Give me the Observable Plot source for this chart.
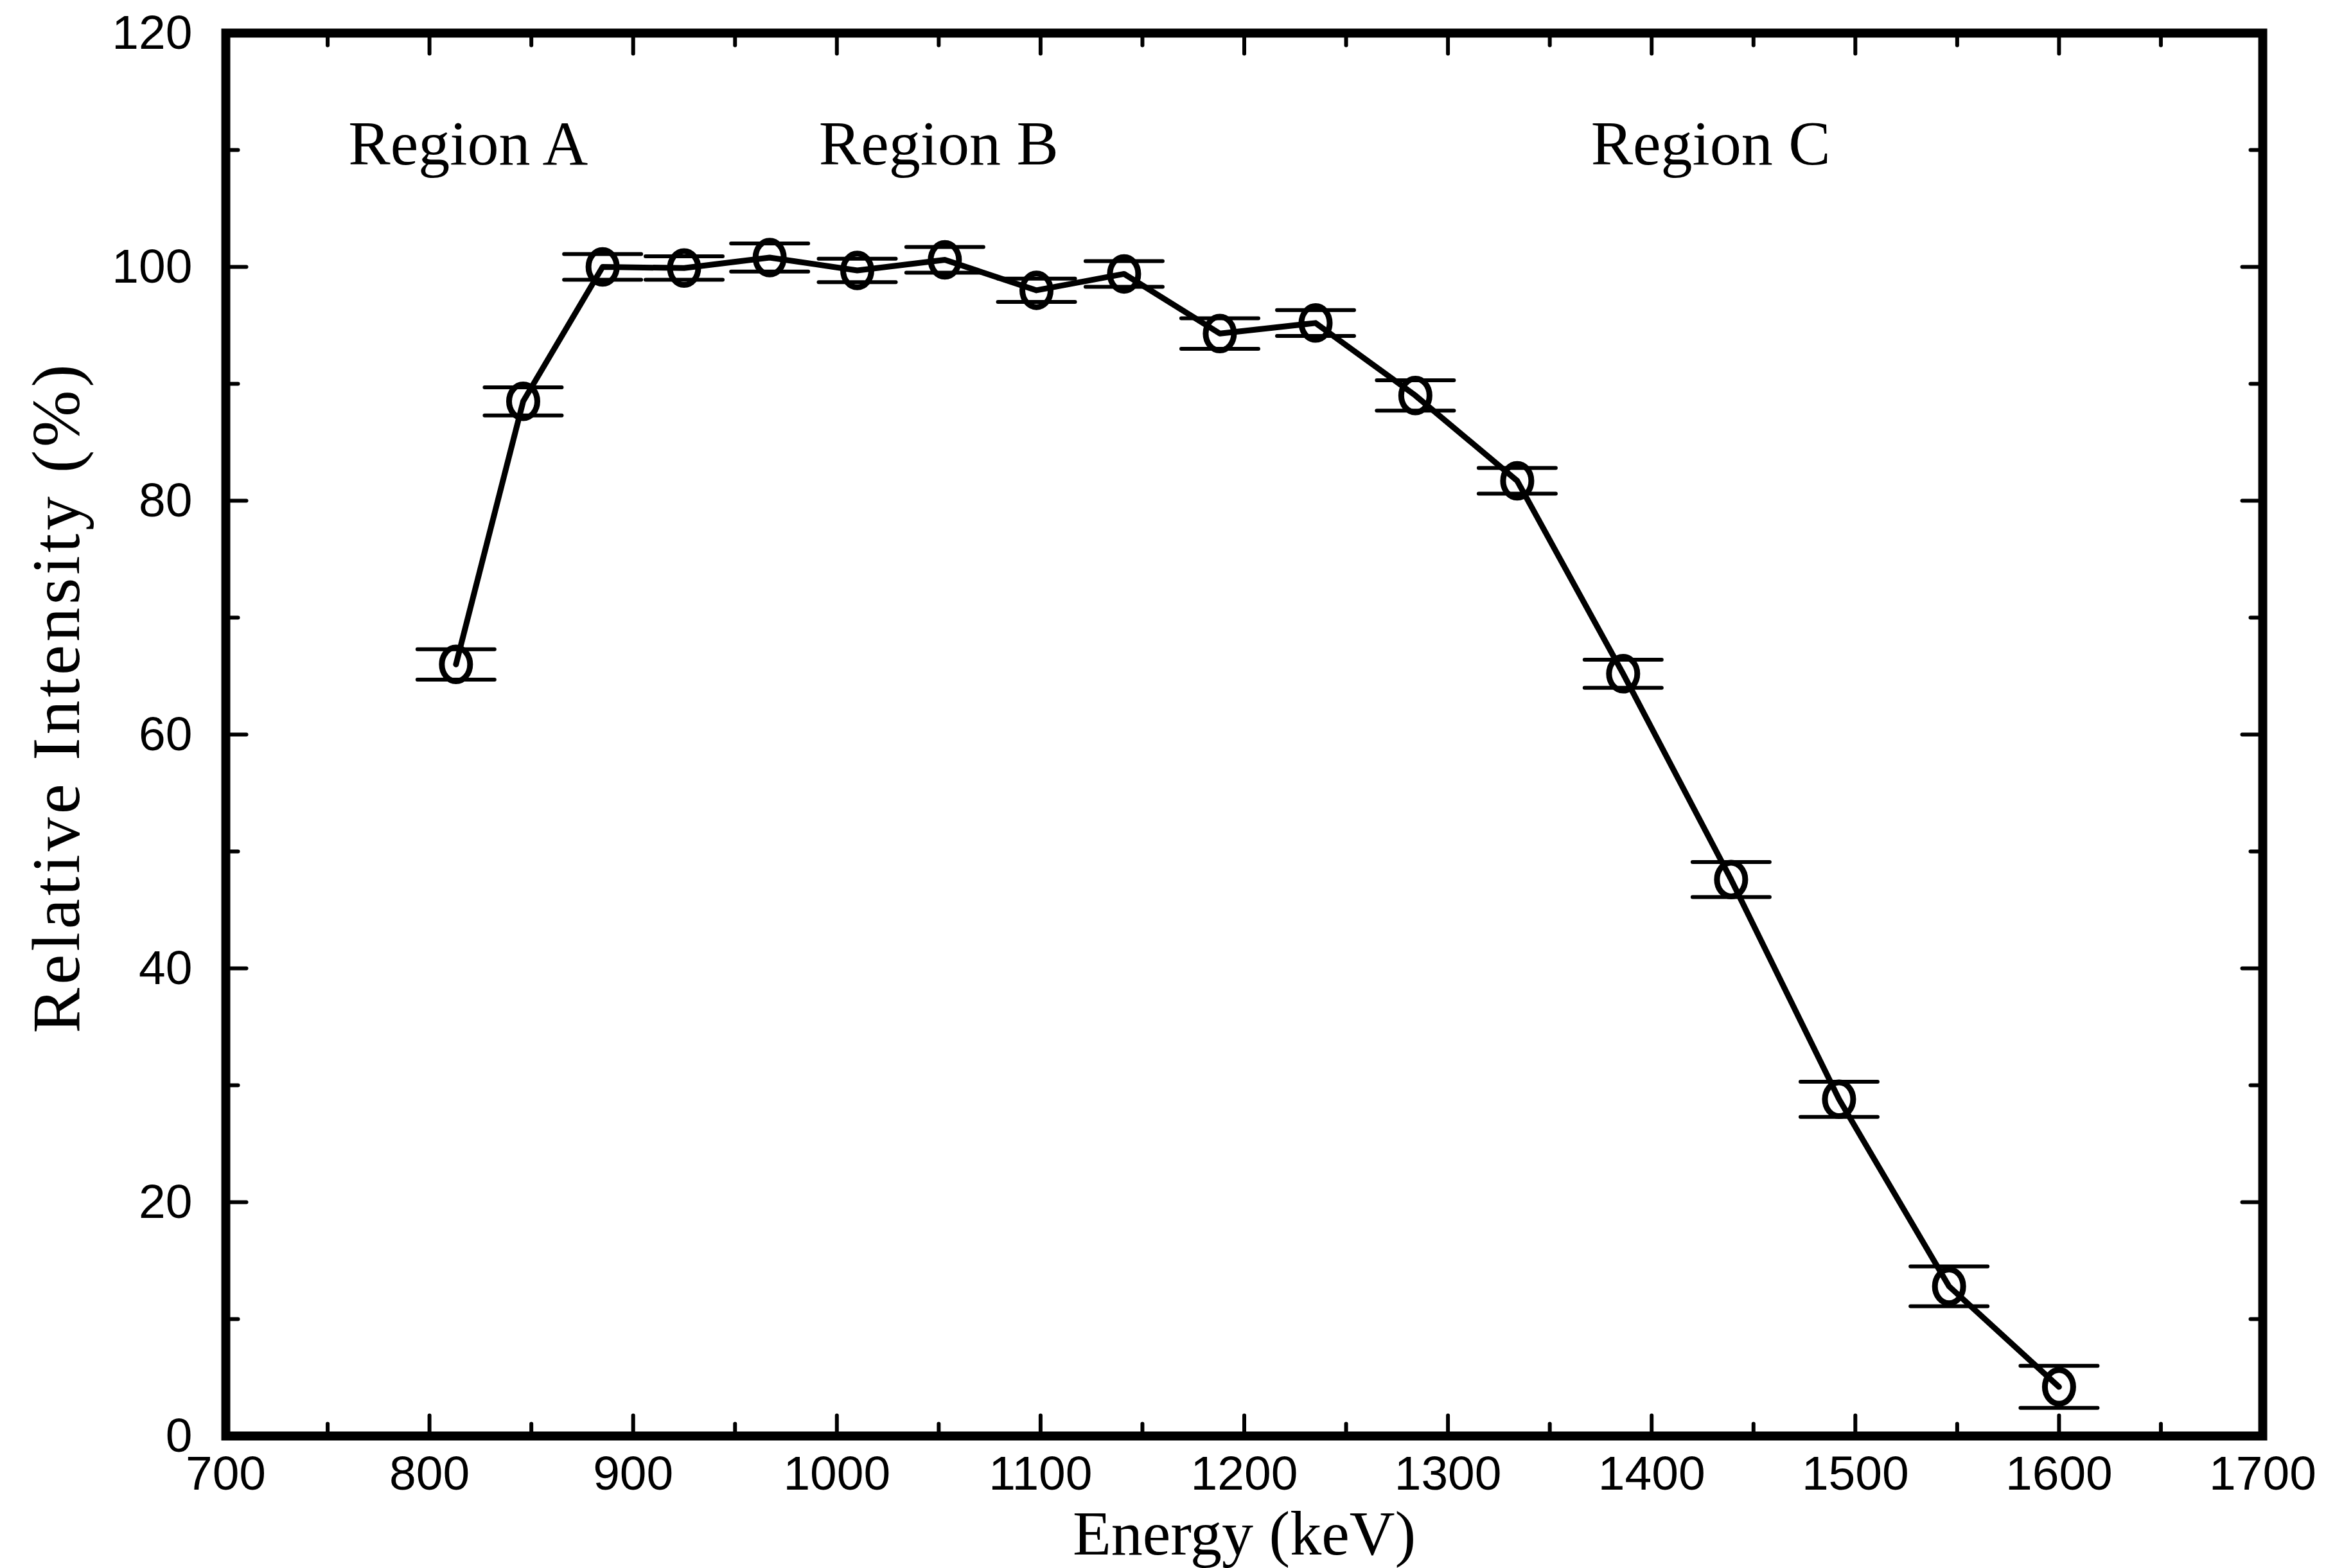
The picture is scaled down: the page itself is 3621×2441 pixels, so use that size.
<!DOCTYPE html>
<html>
<head>
<meta charset="utf-8">
<script src="https://cdn.jsdelivr.net/npm/d3@7"></script>
<script src="https://cdn.jsdelivr.net/npm/@observablehq/plot@0.6"></script>
<style>
  html, body { margin: 0; padding: 0; background: white; }
  .ytitle text { letter-spacing: 5px; }
</style>
</head>
<body>
<div id="chart"></div>
<script>
// Data
const energy    = [813, 846, 885, 925, 967, 1010, 1053, 1098, 1141, 1188, 1235, 1284, 1334, 1386, 1439, 1492, 1546, 1600];
const intensity = [66.0, 88.5, 100.0, 99.9, 100.8, 99.7, 100.6, 98.0, 99.4, 94.3, 95.2, 89.0, 81.7, 65.2, 47.6, 28.8, 12.8, 4.2];
const errorBar  = [1.3, 1.2, 1.1, 1.0, 1.2, 1.0, 1.1, 1.0, 1.1, 1.3, 1.1, 1.3, 1.1, 1.2, 1.5, 1.5, 1.7, 1.8];

const xDomain = [700, 1700];
const yDomain = [0, 120];
const xMajorTicks = [700, 800, 900, 1000, 1100, 1200, 1300, 1400, 1500, 1600, 1700];
const xMinorTicks = [750, 850, 950, 1050, 1150, 1250, 1350, 1450, 1550, 1650];
const yMajorTicks = [0, 20, 40, 60, 80, 100, 120];
const yMinorTicks = [10, 30, 50, 70, 90, 110];

const regionNames = ["Region A", "Region B", "Region C"];
const regionX     = [819, 1050, 1429];
const regionY     = [110.5, 110.5, 110.5];

const xTitle = "Energy (keV)";
const yTitle = "Relative Intensity (%)";

const points = energy.map((e, i) => ({x: e, y: intensity[i], err: errorBar[i]}));
const regions = regionNames.map((n, i) => ({name: n, x: regionX[i], y: regionY[i]}));

const lineShape = {draw(context, l) { context.moveTo(0, 0); context.lineTo(0, -l); }};
// slightly tall ellipse marker, like the scanned circles
const ellipseSymbol = {
  draw(context, size) {
    const r = Math.sqrt(size / Math.PI);
    const rx = r * 0.88, ry = r * 1.05, k = 0.5523;
    context.moveTo(rx, 0);
    context.bezierCurveTo(rx, ry * k, rx * k, ry, 0, ry);
    context.bezierCurveTo(-rx * k, ry, -rx, ry * k, -rx, 0);
    context.bezierCurveTo(-rx, -ry * k, -rx * k, -ry, 0, -ry);
    context.bezierCurveTo(rx * k, -ry, rx, -ry * k, rx, 0);
    context.closePath();
  }
};
const sansFont = "'Liberation Sans Narrow', 'Arial Narrow', 'Liberation Sans', Arial, sans-serif";
const serifFont = "'Liberation Serif', 'Times New Roman', Times, serif";

const MAJ = 32, MIN = 19, TW = 6;

const chart = Plot.plot({
  width: 3621,
  height: 2441,
  marginLeft: 351,
  marginRight: 99,
  marginTop: 51,
  marginBottom: 206,
  style: {background: "white", color: "black", fontFamily: sansFont},
  x: {domain: xDomain, ticks: xMajorTicks},
  y: {domain: yDomain, ticks: yMajorTicks},
  marks: [
    // inward ticks on all four sides
    Plot.vector(xMajorTicks, {x: d => d, y: yDomain[0], length: MAJ, rotate: 0, anchor: "start", shape: lineShape, stroke: "black", strokeWidth: TW}),
    Plot.vector(xMinorTicks, {x: d => d, y: yDomain[0], length: MIN, rotate: 0, anchor: "start", shape: lineShape, stroke: "black", strokeWidth: TW}),
    Plot.vector(xMajorTicks, {x: d => d, y: yDomain[1], length: MAJ, rotate: 180, anchor: "start", shape: lineShape, stroke: "black", strokeWidth: TW}),
    Plot.vector(xMinorTicks, {x: d => d, y: yDomain[1], length: MIN, rotate: 180, anchor: "start", shape: lineShape, stroke: "black", strokeWidth: TW}),
    Plot.vector(yMajorTicks, {x: xDomain[0], y: d => d, length: MAJ, rotate: 90, anchor: "start", shape: lineShape, stroke: "black", strokeWidth: TW}),
    Plot.vector(yMinorTicks, {x: xDomain[0], y: d => d, length: MIN, rotate: 90, anchor: "start", shape: lineShape, stroke: "black", strokeWidth: TW}),
    Plot.vector(yMajorTicks, {x: xDomain[1], y: d => d, length: MAJ, rotate: -90, anchor: "start", shape: lineShape, stroke: "black", strokeWidth: TW}),
    Plot.vector(yMinorTicks, {x: xDomain[1], y: d => d, length: MIN, rotate: -90, anchor: "start", shape: lineShape, stroke: "black", strokeWidth: TW}),
    Plot.frame({stroke: "black", strokeWidth: 14}),
    // tick labels
    Plot.axisX({ticks: xMajorTicks, tickSize: 0, tickPadding: 30, fontSize: 75, fontFamily: sansFont, label: null, tickFormat: d => String(d)}),
    Plot.axisY({ticks: yMajorTicks, tickSize: 0, tickPadding: 52, fontSize: 75, fontFamily: sansFont, label: null, tickFormat: d => String(d)}),
    // axis titles
    Plot.text([xTitle], {frameAnchor: "bottom", text: d => d, dy: 153, fontSize: 98, fontFamily: serifFont, lineAnchor: "middle", textAnchor: "middle", fill: "black"}),
    Plot.text([yTitle], {frameAnchor: "left", text: d => d, dx: -262, dy: -58, rotate: -90, fontSize: 106, fontFamily: serifFont, lineAnchor: "middle", textAnchor: "middle", fill: "black", className: "ytitle"}),
    // region labels
    Plot.text(regions, {x: "x", y: "y", text: "name", fontSize: 98, fontFamily: serifFont, lineAnchor: "middle", fill: "black"}),
    // error bar caps
    Plot.vector(points, {x: "x", y: d => d.y + d.err, length: 120, rotate: 90, anchor: "middle", shape: lineShape, stroke: "black", strokeWidth: 6}),
    Plot.vector(points, {x: "x", y: d => d.y - d.err, length: 120, rotate: 90, anchor: "middle", shape: lineShape, stroke: "black", strokeWidth: 6}),
    // data line and markers
    Plot.line(points, {x: "x", y: "y", stroke: "black", strokeWidth: 9}),
    Plot.dot(points, {x: "x", y: "y", r: 25, symbol: ellipseSymbol, stroke: "black", strokeWidth: 9, fill: "none"})
  ]
});
document.getElementById("chart").appendChild(chart);
</script>
</body>
</html>
